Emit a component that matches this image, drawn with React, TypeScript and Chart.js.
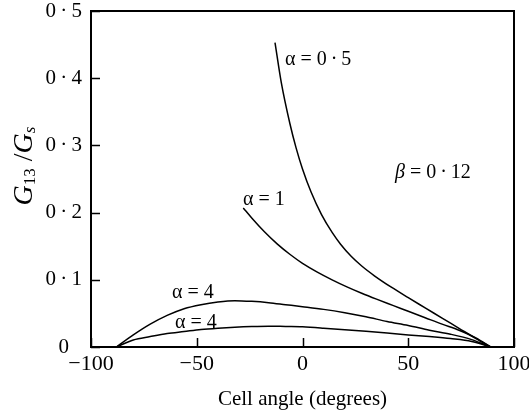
import React, { useEffect, useRef } from 'react';
import { Chart, registerables } from 'chart.js';

Chart.register(...registerables);

const FONT = '"Liberation Serif", "Times New Roman", serif';

// Axis ranges / ticks
const xMin = -100;
const xMax = 100;
const xStep = 50;
const yMin = 0;
const yMax = 0.5;
const yStep = 0.1;

// Series: alpha = 0.5
const a05X = [-13, -10, -6, -3, 0, 4, 9, 14, 18, 23, 28, 34, 42, 50, 58, 66, 74, 82, 89];
const a05Y = [0.453, 0.393, 0.333, 0.296, 0.265, 0.231, 0.197, 0.1705, 0.153, 0.135, 0.1205, 0.106, 0.089, 0.0734, 0.0582, 0.043, 0.0278, 0.0126, 0];

// Series: alpha = 1
const a1X = [-28, -24, -18, -12, -6, 0, 7, 14, 21, 28, 35, 43, 50, 58, 66, 74, 82, 89];
const a1Y = [0.207, 0.192, 0.1715, 0.1535, 0.138, 0.1245, 0.1115, 0.1, 0.0895, 0.08, 0.0712, 0.0616, 0.0532, 0.0436, 0.034, 0.025, 0.0135, 0];

// Series: alpha = 4 (upper)
const a4uX = [-88, -80, -72, -64, -56, -48, -40, -32, -24, -16, -8, 0, 10, 20, 30, 40, 50, 60, 70, 80, 89];
const a4uY = [0, 0.018, 0.034, 0.047, 0.057, 0.063, 0.067, 0.069, 0.068, 0.066, 0.063, 0.06, 0.056, 0.051, 0.045, 0.038, 0.032, 0.025, 0.019, 0.011, 0];

// Series: alpha = 4 (lower)
const a4lX = [-88, -80, -72, -64, -56, -48, -40, -32, -24, -16, -8, 0, 10, 20, 30, 40, 50, 60, 70, 80, 89];
const a4lY = [0, 0.0105, 0.0155, 0.02, 0.023, 0.026, 0.028, 0.0295, 0.0305, 0.031, 0.0305, 0.03, 0.028, 0.0255, 0.0235, 0.021, 0.018, 0.0155, 0.0125, 0.0082, 0];

// In-plot labels (data coordinates of left edge / vertical middle)
const labelTexts = [
  [{ t: 'α = 0\u2009·\u20095' }],
  [{ t: 'α = 1' }],
  [{ t: 'β', i: true }, { t: ' = 0\u2009·\u200912' }],
  [{ t: 'α = 4' }],
  [{ t: 'α = 4' }],
];
const labelX = [-8.3, -28.1, 43.7, -61.7, -60.3];
const labelY = [0.427, 0.219, 0.26, 0.08, 0.0357];

const xTitle = 'Cell angle (degrees)';

function pts(xs: number[], ys: number[]) {
  return xs.map((x, i) => ({ x, y: ys[i] }));
}

const decorPlugin = {
  id: 'decor',
  afterDraw(chart: any) {
    const { ctx, chartArea } = chart;
    const { left, right, top, bottom } = chartArea;
    const xs = chart.scales.x;
    const ys = chart.scales.y;
    ctx.save();
    ctx.strokeStyle = '#000';
    // inward ticks
    ctx.lineWidth = 1.5;
    ctx.beginPath();
    xs.ticks.forEach((t: any) => {
      const px = Math.round(xs.getPixelForValue(t.value)) + 0.5;
      ctx.moveTo(px, bottom);
      ctx.lineTo(px, bottom - 9);
    });
    ys.ticks.forEach((t: any) => {
      const py = Math.round(ys.getPixelForValue(t.value)) + 0.5;
      ctx.moveTo(left, py);
      ctx.lineTo(left + 9, py);
    });
    ctx.stroke();
    // frame
    ctx.lineWidth = 2;
    ctx.strokeRect(left, top, right - left, bottom - top);

    // in-plot labels
    ctx.fillStyle = '#000';
    ctx.textBaseline = 'middle';
    ctx.textAlign = 'left';
    labelTexts.forEach((segs, k) => {
      let px = xs.getPixelForValue(labelX[k]);
      const py = ys.getPixelForValue(labelY[k]);
      segs.forEach((s: any) => {
        ctx.font = (s.i ? 'italic ' : '') + '20px ' + FONT;
        ctx.fillText(s.t, px, py);
        px += ctx.measureText(s.t).width;
      });
    });

    // y-axis title: G13 / Gs
    const segs = [
      { t: 'G', f: 'italic 28px ' + FONT, dy: 0 },
      { t: '13', f: '17px ' + FONT, dy: 6 },
      { t: ' /', f: '28px ' + FONT, dy: 0 },
      { t: 'G', f: 'italic 28px ' + FONT, dy: 0 },
      { t: 's', f: 'italic 17px ' + FONT, dy: 6 },
    ];
    let total = 0;
    segs.forEach((s) => {
      ctx.font = s.f;
      total += ctx.measureText(s.t).width;
    });
    ctx.translate(25, 166);
    ctx.rotate(-Math.PI / 2);
    let cx = -total / 2;
    segs.forEach((s) => {
      ctx.font = s.f;
      ctx.fillText(s.t, cx, s.dy);
      cx += ctx.measureText(s.t).width;
    });
    ctx.restore();
  },
};

export default function App() {
  const ref = useRef<HTMLCanvasElement | null>(null);
  useEffect(() => {
    if (!ref.current) return;
    const chart = new Chart(ref.current, {
      type: 'line',
      data: {
        datasets: [
          { label: 'α = 0.5', data: pts(a05X, a05Y) },
          { label: 'α = 1', data: pts(a1X, a1Y) },
          { label: 'α = 4 (upper)', data: pts(a4uX, a4uY) },
          { label: 'α = 4 (lower)', data: pts(a4lX, a4lY) },
        ].map((d) => ({
          ...d,
          borderColor: '#000',
          borderWidth: 1.5,
          pointRadius: 0,
          fill: false,
          cubicInterpolationMode: 'monotone' as const,
        })),
      },
      options: {
        responsive: false,
        animation: false,
        devicePixelRatio: 1,
        layout: { padding: { top: 11, right: 15, bottom: 1, left: 0 } },
        plugins: { legend: { display: false }, tooltip: { enabled: false } },
        scales: {
          x: {
            type: 'linear',
            min: xMin,
            max: xMax,
            grid: { display: false, drawTicks: false },
            border: { display: false },
            ticks: {
              stepSize: xStep,
              padding: 4,
              color: '#000',
              font: { family: FONT, size: 22 },
              maxRotation: 0,
              callback: (v: any) => (v < 0 ? '\u2212' + Math.abs(v) : String(v)),
            },
            title: {
              display: true,
              text: xTitle,
              color: '#000',
              font: { family: FONT, size: 21 },
              padding: { top: 0, bottom: 4 },
            },
            afterFit: (s: any) => {
              s.height = 69;
              s.paddingLeft = 0;
              s.paddingRight = 0;
            },
          },
          y: {
            type: 'linear',
            min: yMin,
            max: yMax,
            grid: { display: false, drawTicks: false },
            border: { display: false },
            ticks: {
              stepSize: yStep,
              padding: 9,
              crossAlign: 'center',
              color: '#000',
              font: { family: FONT, size: 21 },
              callback: (v: any) =>
                v === 0 ? '0' : Number(v).toFixed(1).replace('.', '\u2009·\u2009'),
            },
            afterFit: (s: any) => {
              s.width = 91;
              s.paddingTop = 0;
              s.paddingBottom = 0;
            },
          },
        },
      },
      plugins: [decorPlugin],
    });
    return () => chart.destroy();
  }, []);
  return (
    <div style={{ position: 'fixed', left: 0, top: 0, width: 529, height: 417, background: '#fff' }}>
      <canvas ref={ref} width={529} height={417} style={{ display: 'block' }} />
    </div>
  );
}
